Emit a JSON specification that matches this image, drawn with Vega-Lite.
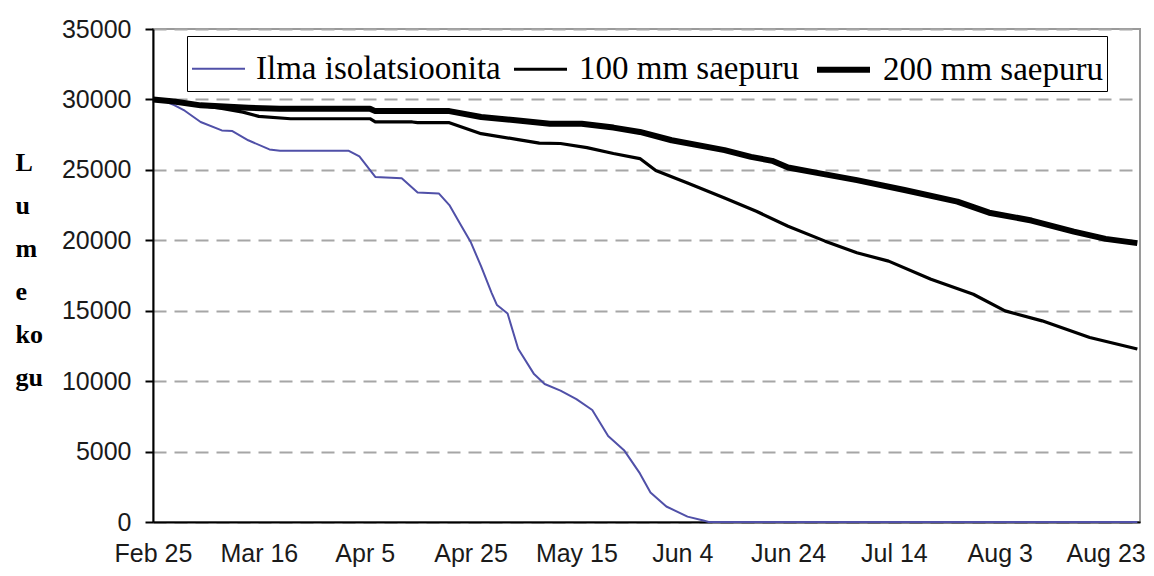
{
  "$schema": "https://vega.github.io/schema/vega-lite/v6.json",
  "autosize": "none",
  "width": 987,
  "height": 493,
  "padding": {"left": 153, "top": 29, "right": 14, "bottom": 54},
  "background": "white",
  "data": {
    "values": [
      {"date": "2004/02/25", "series": "Ilma isolatsioonita", "value": 30000},
      {"date": "2004/02/27", "series": "Ilma isolatsioonita", "value": 29900},
      {"date": "2004/02/29", "series": "Ilma isolatsioonita", "value": 29600},
      {"date": "2004/03/02", "series": "Ilma isolatsioonita", "value": 29200},
      {"date": "2004/03/05", "series": "Ilma isolatsioonita", "value": 28400},
      {"date": "2004/03/09", "series": "Ilma isolatsioonita", "value": 27800},
      {"date": "2004/03/11", "series": "Ilma isolatsioonita", "value": 27750},
      {"date": "2004/03/14", "series": "Ilma isolatsioonita", "value": 27100},
      {"date": "2004/03/18", "series": "Ilma isolatsioonita", "value": 26450},
      {"date": "2004/03/20", "series": "Ilma isolatsioonita", "value": 26350},
      {"date": "2004/04/02", "series": "Ilma isolatsioonita", "value": 26350},
      {"date": "2004/04/04", "series": "Ilma isolatsioonita", "value": 25950},
      {"date": "2004/04/07", "series": "Ilma isolatsioonita", "value": 24500},
      {"date": "2004/04/12", "series": "Ilma isolatsioonita", "value": 24400},
      {"date": "2004/04/15", "series": "Ilma isolatsioonita", "value": 23400},
      {"date": "2004/04/19", "series": "Ilma isolatsioonita", "value": 23330},
      {"date": "2004/04/21", "series": "Ilma isolatsioonita", "value": 22500},
      {"date": "2004/04/23", "series": "Ilma isolatsioonita", "value": 21200},
      {"date": "2004/04/25", "series": "Ilma isolatsioonita", "value": 19900},
      {"date": "2004/04/27", "series": "Ilma isolatsioonita", "value": 18150},
      {"date": "2004/04/29", "series": "Ilma isolatsioonita", "value": 16250},
      {"date": "2004/04/30", "series": "Ilma isolatsioonita", "value": 15400},
      {"date": "2004/05/02", "series": "Ilma isolatsioonita", "value": 14800},
      {"date": "2004/05/04", "series": "Ilma isolatsioonita", "value": 12300},
      {"date": "2004/05/07", "series": "Ilma isolatsioonita", "value": 10500},
      {"date": "2004/05/09", "series": "Ilma isolatsioonita", "value": 9800},
      {"date": "2004/05/12", "series": "Ilma isolatsioonita", "value": 9330},
      {"date": "2004/05/15", "series": "Ilma isolatsioonita", "value": 8720},
      {"date": "2004/05/18", "series": "Ilma isolatsioonita", "value": 7950},
      {"date": "2004/05/21", "series": "Ilma isolatsioonita", "value": 6100},
      {"date": "2004/05/24", "series": "Ilma isolatsioonita", "value": 5100},
      {"date": "2004/05/27", "series": "Ilma isolatsioonita", "value": 3450},
      {"date": "2004/05/29", "series": "Ilma isolatsioonita", "value": 2100},
      {"date": "2004/06/01", "series": "Ilma isolatsioonita", "value": 1100},
      {"date": "2004/06/05", "series": "Ilma isolatsioonita", "value": 380},
      {"date": "2004/06/08", "series": "Ilma isolatsioonita", "value": 100},
      {"date": "2004/06/09", "series": "Ilma isolatsioonita", "value": 0},
      {"date": "2004/08/29", "series": "Ilma isolatsioonita", "value": 0},

      {"date": "2004/02/25", "series": "100 mm saepuru", "value": 30000},
      {"date": "2004/02/29", "series": "100 mm saepuru", "value": 29800},
      {"date": "2004/03/05", "series": "100 mm saepuru", "value": 29580},
      {"date": "2004/03/09", "series": "100 mm saepuru", "value": 29360},
      {"date": "2004/03/13", "series": "100 mm saepuru", "value": 29100},
      {"date": "2004/03/16", "series": "100 mm saepuru", "value": 28800},
      {"date": "2004/03/22", "series": "100 mm saepuru", "value": 28630},
      {"date": "2004/04/06", "series": "100 mm saepuru", "value": 28630},
      {"date": "2004/04/07", "series": "100 mm saepuru", "value": 28400},
      {"date": "2004/04/14", "series": "100 mm saepuru", "value": 28400},
      {"date": "2004/04/15", "series": "100 mm saepuru", "value": 28350},
      {"date": "2004/04/21", "series": "100 mm saepuru", "value": 28350},
      {"date": "2004/04/27", "series": "100 mm saepuru", "value": 27570},
      {"date": "2004/05/04", "series": "100 mm saepuru", "value": 27150},
      {"date": "2004/05/08", "series": "100 mm saepuru", "value": 26900},
      {"date": "2004/05/12", "series": "100 mm saepuru", "value": 26870},
      {"date": "2004/05/17", "series": "100 mm saepuru", "value": 26580},
      {"date": "2004/05/22", "series": "100 mm saepuru", "value": 26160},
      {"date": "2004/05/27", "series": "100 mm saepuru", "value": 25800},
      {"date": "2004/05/30", "series": "100 mm saepuru", "value": 24950},
      {"date": "2004/06/05", "series": "100 mm saepuru", "value": 24060},
      {"date": "2004/06/12", "series": "100 mm saepuru", "value": 23000},
      {"date": "2004/06/18", "series": "100 mm saepuru", "value": 22060},
      {"date": "2004/06/24", "series": "100 mm saepuru", "value": 21000},
      {"date": "2004/07/01", "series": "100 mm saepuru", "value": 19940},
      {"date": "2004/07/07", "series": "100 mm saepuru", "value": 19110},
      {"date": "2004/07/13", "series": "100 mm saepuru", "value": 18520},
      {"date": "2004/07/21", "series": "100 mm saepuru", "value": 17230},
      {"date": "2004/07/29", "series": "100 mm saepuru", "value": 16170},
      {"date": "2004/08/04", "series": "100 mm saepuru", "value": 14990},
      {"date": "2004/08/11", "series": "100 mm saepuru", "value": 14280},
      {"date": "2004/08/20", "series": "100 mm saepuru", "value": 13100},
      {"date": "2004/08/29", "series": "100 mm saepuru", "value": 12280},

      {"date": "2004/02/25", "series": "200 mm saepuru", "value": 30000},
      {"date": "2004/02/29", "series": "200 mm saepuru", "value": 29850},
      {"date": "2004/03/05", "series": "200 mm saepuru", "value": 29580},
      {"date": "2004/03/14", "series": "200 mm saepuru", "value": 29410},
      {"date": "2004/03/20", "series": "200 mm saepuru", "value": 29340},
      {"date": "2004/04/06", "series": "200 mm saepuru", "value": 29340},
      {"date": "2004/04/07", "series": "200 mm saepuru", "value": 29170},
      {"date": "2004/04/21", "series": "200 mm saepuru", "value": 29170},
      {"date": "2004/04/27", "series": "200 mm saepuru", "value": 28750},
      {"date": "2004/05/04", "series": "200 mm saepuru", "value": 28510},
      {"date": "2004/05/10", "series": "200 mm saepuru", "value": 28280},
      {"date": "2004/05/16", "series": "200 mm saepuru", "value": 28280},
      {"date": "2004/05/22", "series": "200 mm saepuru", "value": 28000},
      {"date": "2004/05/27", "series": "200 mm saepuru", "value": 27690},
      {"date": "2004/06/02", "series": "200 mm saepuru", "value": 27100},
      {"date": "2004/06/12", "series": "200 mm saepuru", "value": 26400},
      {"date": "2004/06/17", "series": "200 mm saepuru", "value": 25920},
      {"date": "2004/06/21", "series": "200 mm saepuru", "value": 25640},
      {"date": "2004/06/24", "series": "200 mm saepuru", "value": 25170},
      {"date": "2004/06/30", "series": "200 mm saepuru", "value": 24750},
      {"date": "2004/07/07", "series": "200 mm saepuru", "value": 24270},
      {"date": "2004/07/16", "series": "200 mm saepuru", "value": 23570},
      {"date": "2004/07/26", "series": "200 mm saepuru", "value": 22740},
      {"date": "2004/08/01", "series": "200 mm saepuru", "value": 21960},
      {"date": "2004/08/09", "series": "200 mm saepuru", "value": 21400},
      {"date": "2004/08/17", "series": "200 mm saepuru", "value": 20620},
      {"date": "2004/08/23", "series": "200 mm saepuru", "value": 20100},
      {"date": "2004/08/29", "series": "200 mm saepuru", "value": 19800}
    ]
  },
  "mark": {"type": "line", "interpolate": "linear", "strokeJoin": "round", "strokeCap": "butt"},
  "encoding": {
    "x": {
      "field": "date",
      "type": "temporal",
      "scale": {
        "domain": [
          {"year": 2004, "month": 2, "date": 25},
          {"year": 2004, "month": 8, "date": 29, "hours": 12}
        ]
      },
      "axis": {
        "title": null,
        "zindex": 0,
        "values": [
          {"year": 2004, "month": 2, "date": 25},
          {"year": 2004, "month": 3, "date": 16},
          {"year": 2004, "month": 4, "date": 5},
          {"year": 2004, "month": 4, "date": 25},
          {"year": 2004, "month": 5, "date": 15},
          {"year": 2004, "month": 6, "date": 4},
          {"year": 2004, "month": 6, "date": 24},
          {"year": 2004, "month": 7, "date": 14},
          {"year": 2004, "month": 8, "date": 3},
          {"year": 2004, "month": 8, "date": 23}
        ],
        "format": "%b %-d",
        "grid": false,
        "ticks": false,
        "domainColor": "#000000",
        "domainWidth": 2,
        "labelFont": "Liberation Sans",
        "labelFontSize": 25,
        "labelColor": "#1a1a1a",
        "labelPadding": 19,
        "labelBaseline": "top",
        "labelOverlap": false,
        "labelFlush": false
      }
    },
    "y": {
      "field": "value",
      "type": "quantitative",
      "scale": {"domain": [0, 35000], "nice": false, "zero": true},
      "axis": {
        "zindex": 0,
        "values": [0, 5000, 10000, 15000, 20000, 25000, 30000, 35000],
        "format": "d",
        "title": ["L", "u", "m", "e", "ko", "gu"],
        "titleAngle": 0,
        "titleAlign": "left",
        "titleBaseline": "alphabetic",
        "titleX": -138,
        "titleY": 141,
        "titleFont": "Liberation Serif",
        "titleFontWeight": "bold",
        "titleFontSize": 26,
        "titleLineHeight": 43,
        "titleColor": "#000000",
        "grid": true,
        "gridColor": "#a6a6a6",
        "gridWidth": 2,
        "gridDash": [13, 8],
        "domainColor": "#000000",
        "domainWidth": 2,
        "ticks": true,
        "tickColor": "#000000",
        "tickSize": 8,
        "tickWidth": 2,
        "labelFont": "Liberation Sans",
        "labelFontSize": 25,
        "labelColor": "#1a1a1a",
        "labelPadding": 14,
        "labelFlush": false,
        "labelOverlap": false
      }
    },
    "color": {
      "field": "series",
      "type": "ordinal",
      "title": null,
      "scale": {
        "type": "ordinal",
        "domain": ["Ilma isolatsioonita", "100 mm saepuru", "200 mm saepuru"],
        "range": ["#5050a8", "#000000", "#000000"]
      },
      "legend": {"orient": "none", "legendX": 34, "legendY": 7, "direction": "horizontal"}
    },
    "strokeWidth": {
      "field": "series",
      "type": "ordinal",
      "title": null,
      "scale": {
        "type": "ordinal",
        "domain": ["Ilma isolatsioonita", "100 mm saepuru", "200 mm saepuru"],
        "range": [2, 3.2, 6]
      },
      "legend": {"orient": "none", "legendX": 34, "legendY": 7, "direction": "horizontal"}
    }
  },
  "config": {
    "view": {"stroke": "#9a9a9a", "strokeWidth": 2},
    "legend": {
      "symbolType": "stroke",
      "symbolSize": 2809,
      "labelFont": "Liberation Serif",
      "labelFontSize": 33,
      "labelColor": "#000000",
      "labelLimit": 400,
      "labelOffset": 10,
      "columnPadding": 6,
      "padding": 4,
      "strokeColor": "#000000",
      "fillColor": "#ffffff"
    }
  }
}
